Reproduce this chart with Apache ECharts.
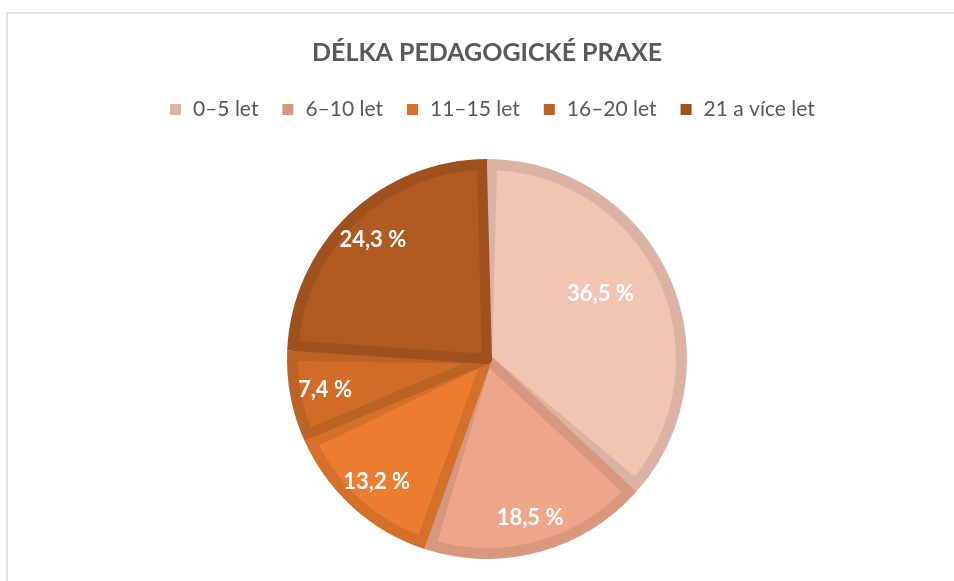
<!DOCTYPE html>
<html>
<head>
<meta charset="utf-8">
<script src="https://cdn.jsdelivr.net/npm/echarts@6/dist/echarts.min.js"></script>
<style>
  html, body { margin: 0; padding: 0; background: #fff; }
  #chart { width: 954px; height: 581px; }
</style>
</head>
<body>
<div id="chart"></div>
<script>
// kategorie a hodnoty (%)
const categories = ["0–5 let", "6–10 let", "11–15 let", "16–20 let", "21 a více let"];
const values = [36.5, 18.5, 13.2, 7.4, 24.3];
const fillColors = ["#F1C4B4", "#EDA68A", "#EB7C31", "#D06C28", "#AE5A21"];
const edgeColors = ["#DCB2A4", "#D8987F", "#D5702B", "#BC6224", "#9E511D"];

const chart = echarts.init(document.getElementById("chart"));

const fmt = (v) => v.toFixed(1).replace(".", ",") + " %";

const option = {
  animation: false,
  title: {
    text: "DÉLKA PEDAGOGICKÉ PRAXE",
    left: 307,
    top: 35,
    textStyle: {
      fontFamily: "Lato",
      fontWeight: "bold",
      fontSize: 25,
      color: "#595959",
    },
  },
  legend: {
    data: categories,
    top: 94,
    left: 165,
    icon: "rect",
    itemWidth: 11,
    itemHeight: 11,
    itemGap: 24,
    selectedMode: false,
    textStyle: {
      fontFamily: "Lato",
      fontSize: 21,
      color: "#595959",
      padding: [0, 0, 0, 7],
    },
  },
  graphic: [
    {
      type: "rect",
      shape: { x: 7, y: 13, width: 1000, height: 700 },
      style: { fill: "none", stroke: "#D9D9D9", lineWidth: 1.5 },
      silent: true,
      z: -1,
    },
  ],
  series: [
    {
      // obrys (spodní vrstva)
      type: "pie",
      center: [487, 359],
      radius: 200,
      startAngle: 90,
      clockwise: true,
      silent: true,
      label: { show: false },
      labelLine: { show: false },
      data: categories.map((c, i) => ({
        name: c,
        value: values[i],
        itemStyle: { color: edgeColors[i] },
      })),
    },
    {
      // výplň
      type: "pie",
      center: [487, 359],
      radius: 194,
      startAngle: 90,
      clockwise: true,
      padAngle: 3,
      silent: true,
      label: { show: false },
      labelLine: { show: false },
      data: categories.map((c, i) => ({
        name: c,
        value: values[i],
        itemStyle: { color: fillColors[i], borderColor: edgeColors[i], borderWidth: 10 },
      })),
      z: 3,
    },
    {
      // popisky
      type: "pie",
      center: [487, 359],
      radius: [124, 200],
      startAngle: 90,
      clockwise: true,
      silent: true,
      itemStyle: { color: "transparent" },
      label: {
        show: true,
        position: "inside",
        formatter: (p) => fmt(p.value),
        fontFamily: "Lato",
        fontWeight: "bold",
        fontSize: 22,
        color: "#ffffff",
      },
      labelLayout: (p) => (p.dataIndex === 0 ? { dx: -37, dy: 3 } : {}),
      data: categories.map((c, i) => ({ name: c, value: values[i] })),
      z: 4,
    },
  ],
};

chart.setOption(option);
</script>
</body>
</html>
